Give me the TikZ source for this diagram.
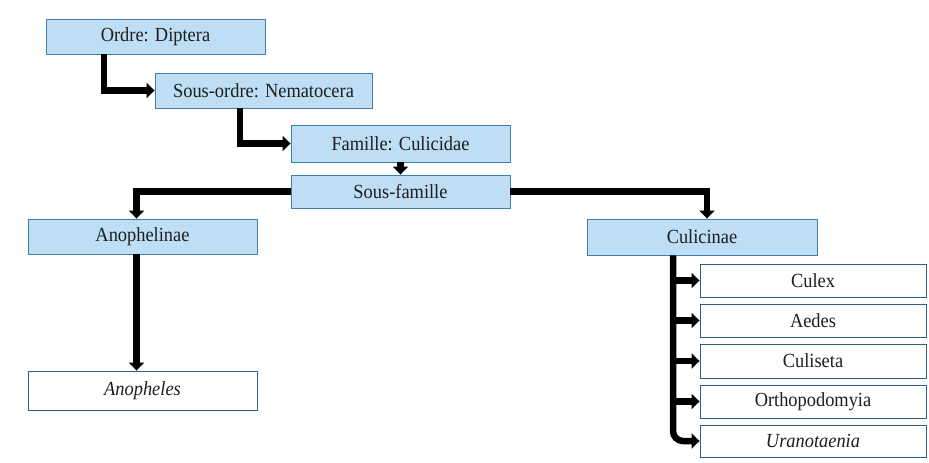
\documentclass[tikz,border=0pt]{standalone}
\usepackage{fontspec}
\setmainfont{Liberation Serif}
\usetikzlibrary{arrows.meta}
\definecolor{edgeblue}{HTML}{A6D1F0}
\definecolor{midblue}{HTML}{EAF5FD}
\definecolor{bordblue}{HTML}{3F80A8}
\definecolor{genbord}{HTML}{2F5E88}
\definecolor{txt}{HTML}{1E1E1E}
\tikzset{
  taxon/.style={draw=bordblue, line width=0.9pt, fill=edgeblue!65!midblue,
    inner sep=0pt, text=txt, font=\fontsize{20}{22}\selectfont},
  genus/.style={draw=genbord, line width=0.9pt, fill=white, inner sep=0pt, text=txt,
    font=\fontsize{20}{22}\selectfont},
  arr/.style={line width=6.5pt, draw=black, -{Triangle[length=8pt,width=15pt]}},
}
\newcommand{\nt}[1]{\scalebox{0.92}[1]{#1}}
\begin{document}
\begin{tikzpicture}[x=1pt,y=-1pt]
\fill[white] (0,0) rectangle (929,463);
\useasboundingbox (0,0) rectangle (929,463);
\node[taxon, minimum width=219pt, minimum height=35pt] (ordre) at (155.5,36.5) {\nt{Ordre: Diptera}};
\node[taxon, minimum width=217pt, minimum height=35pt] (sousordre) at (263.5,90.5) {\nt{Sous-ordre: Nematocera}};
\node[taxon, minimum width=219pt, minimum height=37pt] (famille) at (400.5,143.5) {\nt{Famille: Culicidae}};
\node[taxon, minimum width=219pt, minimum height=33pt] (sousfam) at (400.5,191.5) {\nt{Sous-famille}};
\node[taxon, minimum width=229pt, minimum height=35pt] (anophelinae) at (142.5,236.5) {\nt{Anophelinae}};
\node[genus, minimum width=229pt, minimum height=39pt] (anopheles) at (142.5,390.5) {\nt{\itshape Anopheles}};
\node[taxon, minimum width=230pt, minimum height=36pt] (culicinae) at (702,237) {\nt{Culicinae}};
\node[genus, minimum width=226pt, minimum height=33pt] (culex) at (813,280.5) {\nt{Culex}};
\node[genus, minimum width=226pt, minimum height=33pt] (aedes) at (813,320.5) {\nt{Aedes}};
\node[genus, minimum width=226pt, minimum height=34pt] (culiseta) at (813,361) {\nt{Culiseta}};
\node[genus, minimum width=226pt, minimum height=33pt] (ortho) at (813,401.5) {\nt{Orthopodomyia}};
\node[genus, minimum width=226pt, minimum height=32pt] (urano) at (813,441) {\nt{\itshape Uranotaenia}};
% connectors
\draw[arr] ([xshift=-51.5pt]ordre.south) |- (sousordre.west);
\draw[arr] ([xshift=-23.5pt]sousordre.south) |- (famille.west);
\draw[arr] (famille.south) -- (sousfam.north);
\draw[arr] (sousfam.west) -| ([xshift=-6pt]anophelinae.north);
\draw[arr] (sousfam.east) -| ([xshift=5pt]culicinae.north);
\draw[arr] ([xshift=-6pt]anophelinae.south) -- ([xshift=-6pt]anopheles.north);
\coordinate (trunk) at ([xshift=-29pt]culicinae.south);
\draw[arr, rounded corners=10pt] (trunk) |- (urano.west);
\foreach \g in {culex,aedes,culiseta,ortho}
  \draw[arr] (trunk |- \g.west) -- (\g.west);
\end{tikzpicture}
\end{document}
